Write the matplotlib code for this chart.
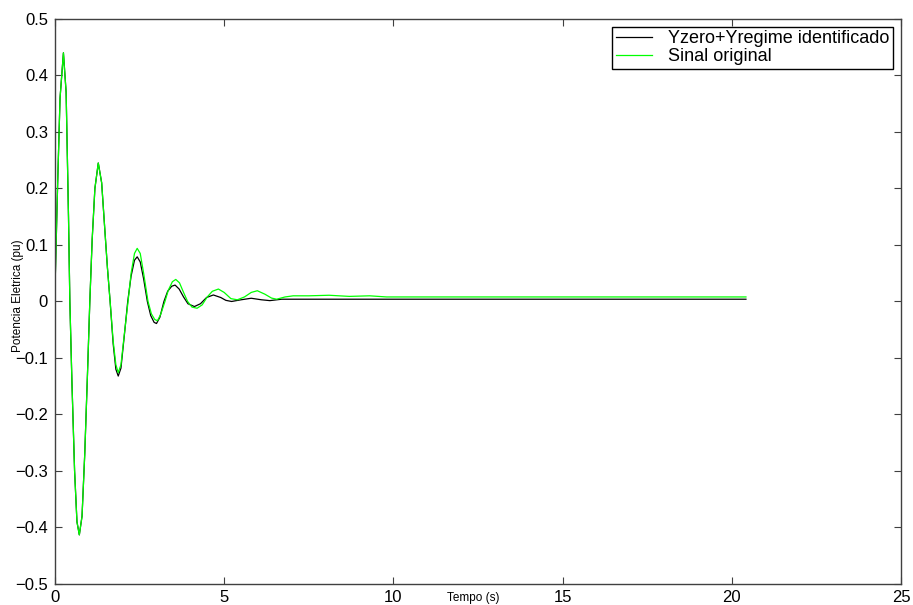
import numpy as np
import matplotlib.pyplot as plt

plt.rcParams['font.family'] = ['Liberation Sans', 'DejaVu Sans']

# Sinal original (verde)
t_orig = [0.00, 0.08, 0.15, 0.25, 0.33, 0.40, 0.44, 0.50, 0.58, 0.65, 0.72, 0.80,
          0.88, 0.96, 1.03, 1.10, 1.18, 1.28, 1.38, 1.47, 1.55, 1.63, 1.72, 1.80,
          1.87, 1.95, 2.05, 2.16, 2.25, 2.35, 2.43, 2.52, 2.62, 2.75, 2.85, 2.95,
          3.03, 3.13, 3.25, 3.35, 3.47, 3.57, 3.68, 3.80, 3.92, 4.05, 4.20, 4.35,
          4.50, 4.65, 4.83, 5.00, 5.20, 5.39, 5.60, 5.80, 5.98, 6.20, 6.40, 6.55,
          6.80, 7.04, 7.50, 8.10, 8.70, 9.30, 9.80, 12.0, 16.0, 20.42]
p_orig = [0.020, 0.210, 0.360, 0.440, 0.370, 0.150, 0.000, -0.140, -0.300, -0.390, -0.413, -0.380,
          -0.270, -0.130, 0.000, 0.110, 0.200, 0.245, 0.210, 0.130, 0.060, 0.000, -0.070, -0.112,
          -0.126, -0.112, -0.058, 0.000, 0.050, 0.085, 0.094, 0.085, 0.050, 0.000, -0.022, -0.032,
          -0.034, -0.022, 0.000, 0.020, 0.035, 0.039, 0.033, 0.016, 0.000, -0.010, -0.012, -0.006,
          0.008, 0.018, 0.022, 0.016, 0.005, 0.003, 0.008, 0.016, 0.019, 0.013, 0.006, 0.004,
          0.008, 0.010, 0.010, 0.011, 0.009, 0.010, 0.008, 0.008, 0.008, 0.008]

# Yzero + Yregime identificado (preto)
t_ident = [0.00, 0.08, 0.15, 0.25, 0.33, 0.40, 0.44, 0.50, 0.58, 0.65, 0.72, 0.80,
           0.88, 0.96, 1.03, 1.10, 1.18, 1.28, 1.38, 1.47, 1.55, 1.63, 1.72, 1.80,
           1.87, 1.95, 2.05, 2.15, 2.25, 2.35, 2.43, 2.52, 2.62, 2.73, 2.83, 2.93,
           3.00, 3.10, 3.22, 3.33, 3.45, 3.55, 3.67, 3.80, 3.93, 4.12, 4.30, 4.48,
           4.68, 4.90, 5.05, 5.22, 5.50, 5.80, 6.10, 6.35, 6.70, 7.00, 20.42]
p_ident = [0.020, 0.210, 0.360, 0.440, 0.370, 0.150, 0.000, -0.140, -0.300, -0.390, -0.413, -0.380,
           -0.270, -0.130, 0.000, 0.110, 0.200, 0.245, 0.210, 0.130, 0.060, 0.000, -0.075, -0.120,
           -0.132, -0.118, -0.060, 0.000, 0.045, 0.073, 0.079, 0.070, 0.040, 0.000, -0.025, -0.037,
           -0.039, -0.028, 0.000, 0.018, 0.027, 0.029, 0.022, 0.008, -0.004, -0.009, -0.004, 0.007,
           0.0115, 0.007, 0.002, 0.000, 0.003, 0.0057, 0.003, 0.0015, 0.004, 0.004, 0.004]

xticks = [0, 5, 10, 15, 20, 25]
yticks = [-0.5, -0.4, -0.3, -0.2, -0.1, 0, 0.1, 0.2, 0.3, 0.4, 0.5]
ytick_labels = ['\u22120.5', '\u22120.4', '\u22120.3', '\u22120.2', '\u22120.1', '0',
                '0.1', '0.2', '0.3', '0.4', '0.5']

fig = plt.figure(figsize=(9.13, 6.05), dpi=100)
ax = fig.add_axes([0.0602, 0.0347, 0.9266, 0.934])

ax.plot(t_ident, p_ident, color='k', linewidth=0.9, label='Yzero+Yregime identificado')
ax.plot(t_orig, p_orig, color='#00ff00', linewidth=0.9, label='Sinal original')

ax.set_xlim(0, 25)
ax.set_ylim(-0.5, 0.5)
ax.set_xticks(xticks)
ax.set_xticklabels([str(v) for v in xticks])
ax.set_yticks(yticks)
ax.set_yticklabels(ytick_labels)
ax.tick_params(axis='both', which='both', direction='in', top=True, right=True,
               length=5, width=0.8, labelsize=12, color='#404040')
ax.tick_params(axis='x', pad=4)
ax.tick_params(axis='y', pad=5)
for s in ax.spines.values():
    s.set_color('#404040')
    s.set_linewidth(1.0)

ax.set_xlabel('Tempo (s)', fontsize=8.5)
ax.xaxis.set_label_coords(0.494, -0.014)
ax.set_ylabel('Potencia Eletrica (pu)', fontsize=8.5)
ax.yaxis.set_label_coords(-0.037, 0.51)

lgnd = ax.legend(loc='upper right', bbox_to_anchor=(0.9905, 0.986), fontsize=13,
                 fancybox=False, framealpha=1, edgecolor='k', borderpad=0.2,
                 handlelength=2.0, handletextpad=0.9, labelspacing=0.05,
                 borderaxespad=0)
lgnd.get_frame().set_linewidth(1.0)

plt.savefig('out.png', dpi=100)
